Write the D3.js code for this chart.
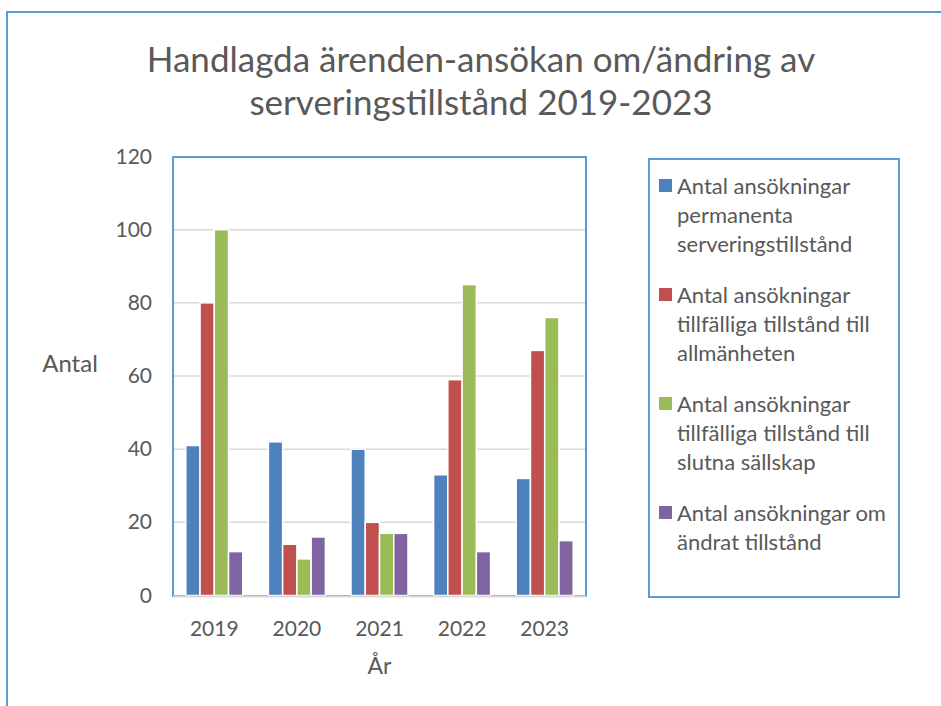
<!DOCTYPE html>
<html>
<head>
<meta charset="utf-8">
<script src="https://cdn.jsdelivr.net/npm/d3@7"></script>
<style>
	body { margin: 0; background: #fff; }
	svg text { font-family: Lato, "Open Sans", sans-serif; fill: #595959; }
</style>
</head>
<body>
<svg id="chart" width="941" height="706"></svg>
<script>

const YEARS = ['2019', '2020', '2021', '2022', '2023'];
const SERIES = ['permanenta', 'allmanheten', 'slutna', 'andrat'];
const PERMANENTA = [41, 42, 40, 33, 32];
const ALLMANHETEN = [80, 14, 20, 59, 67];
const SLUTNA = [100, 10, 17, 85, 76];
const ANDRAT = [12, 16, 17, 12, 15];
const Y_TICKS = [0, 20, 40, 60, 80, 100, 120];
const LEGEND_LINES = [
	['Antal ansökningar', 'permanenta', 'serveringstillstånd'],
	['Antal ansökningar', 'tillfälliga tillstånd till', 'allmänheten'],
	['Antal ansökningar', 'tillfälliga tillstånd till', 'slutna sällskap'],
	['Antal ansökningar om', 'ändrat tillstånd']
];
const TITLE_LINES = ['Handlagda ärenden-ansökan om/ändring av', 'serveringstillstånd 2019-2023'];
const COLORS = ['#4f81bd', '#c0504d', '#9bbb59', '#8064a2'];

const VALUES = [PERMANENTA, ALLMANHETEN, SLUTNA, ANDRAT];

const svg = d3.select('#chart');
const border_blue = '#5b9bd5';

// outer chart frame (runs off the right/bottom of the picture)
svg.append('rect')
	.attr('x', 7).attr('y', 12)
	.attr('width', 960).attr('height', 720)
	.attr('fill', 'none')
	.attr('stroke', border_blue)
	.attr('stroke-width', 2);

// title
svg.append('g')
	.selectAll('text')
	.data(TITLE_LINES)
	.enter()
	.append('text')
		.attr('x', 481)
		.attr('y', (d, i) => 72 + i * 43)
		.attr('text-anchor', 'middle')
		.style('font-size', '35px')
		.text(d => d);

// plot area
const plot = { left: 173, right: 586, top: 157, bottom: 596 };

const y = d3.scaleLinear()
	.domain([0, 120])
	.range([plot.bottom - 0.5, plot.top - 0.5]);

const x0 = d3.scaleBand()
	.domain(YEARS)
	.range([plot.left, plot.right])
	.paddingInner(0.31)
	.paddingOuter(0.155);

const x1 = d3.scaleBand()
	.domain(SERIES)
	.range([0, x0.bandwidth()]);

// gridlines
svg.append('g')
	.selectAll('line')
	.data(Y_TICKS.filter(t => t > 0 && t < 120))
	.enter()
	.append('line')
		.attr('x1', plot.left)
		.attr('x2', plot.right)
		.attr('y1', d => y(d))
		.attr('y2', d => y(d))
		.attr('stroke', '#d9d9d9')
		.attr('stroke-width', 1.5);

// plot area border
svg.append('rect')
	.attr('x', plot.left).attr('y', plot.top)
	.attr('width', plot.right - plot.left)
	.attr('height', plot.bottom - plot.top)
	.attr('fill', 'none')
	.attr('stroke', border_blue)
	.attr('stroke-width', 2);

// bars
const groups = svg.append('g')
	.selectAll('g')
	.data(YEARS)
	.enter()
	.append('g')
		.attr('transform', d => `translate(${x0(d)},0)`);

groups.selectAll('rect')
	.data((year, yi) => SERIES.map((s, si) => ({ s: s, si: si, v: VALUES[si][yi] })))
	.enter()
	.append('rect')
		.attr('x', d => x1(d.s))
		.attr('y', d => y(d.v))
		.attr('width', x1.bandwidth())
		.attr('height', d => y(0) - y(d.v))
		.attr('fill', d => COLORS[d.si])
		.attr('stroke', '#fff')
		.attr('stroke-width', 1.5);

// x axis line
svg.append('line')
	.attr('x1', plot.left)
	.attr('x2', plot.right)
	.attr('y1', y(0) + 1)
	.attr('y2', y(0) + 1)
	.attr('stroke', '#d9d9d9')
	.attr('stroke-width', 2);

// y tick labels
svg.append('g')
	.selectAll('text')
	.data(Y_TICKS)
	.enter()
	.append('text')
		.attr('x', 152)
		.attr('y', d => y(d) + 7)
		.attr('text-anchor', 'end')
		.style('font-size', '21px')
		.text(d => d);

// x tick labels
svg.append('g')
	.selectAll('text')
	.data(YEARS)
	.enter()
	.append('text')
		.attr('x', d => x0(d) + x0.bandwidth() / 2)
		.attr('y', 636)
		.attr('text-anchor', 'middle')
		.style('font-size', '21px')
		.text(d => d);

// axis titles
svg.append('text')
	.attr('x', (plot.left + plot.right) / 2)
	.attr('y', 674)
	.attr('text-anchor', 'middle')
	.style('font-size', '23px')
	.text('År');

svg.append('text')
	.attr('x', 70)
	.attr('y', 372)
	.attr('text-anchor', 'middle')
	.style('font-size', '24px')
	.text('Antal');

// legend
svg.append('rect')
	.attr('x', 649).attr('y', 159)
	.attr('width', 250).attr('height', 438)
	.attr('fill', 'none')
	.attr('stroke', border_blue)
	.attr('stroke-width', 2);

const legend_items = svg.append('g')
	.selectAll('g')
	.data(LEGEND_LINES)
	.enter()
	.append('g')
		.attr('transform', (d, i) => `translate(659,${194 + i * 109})`);

legend_items.append('rect')
	.attr('x', 0).attr('y', -15)
	.attr('width', 13).attr('height', 13)
	.attr('fill', (d, i) => COLORS[i]);

legend_items.selectAll('text')
	.data(d => d)
	.enter()
	.append('text')
		.attr('x', 18)
		.attr('y', (d, i) => i * 29)
		.style('font-size', '22px')
		.text(d => d);

</script>
</body>
</html>
